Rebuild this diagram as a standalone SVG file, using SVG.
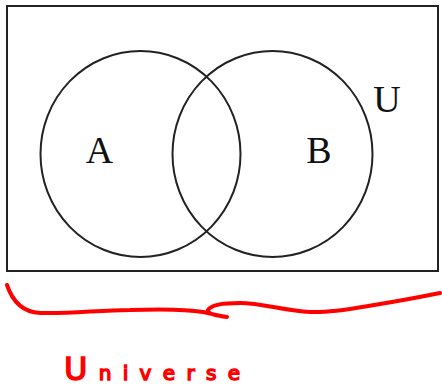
<svg xmlns="http://www.w3.org/2000/svg" width="442" height="389" viewBox="0 0 442 389">
<style>
.set{fill:none;stroke:#222;stroke-width:2}
.lbl{font-family:"Liberation Serif","Times New Roman",serif;font-size:38px;fill:#111;text-anchor:middle}
.ink{fill:none;stroke:#f00;stroke-width:4;stroke-linecap:round;stroke-linejoin:round}
.hand{font-family:"DejaVu Sans","Noto Sans",sans-serif;font-size:20px;fill:#f00;stroke:#f00;stroke-width:1.5}
.cap{font-size:32px}
</style>
<rect width="442" height="389" fill="#fff"/>
<g id="universe">
<rect class="set" x="7" y="6" width="431" height="265"/>
<text class="lbl" x="387" y="112">U</text>
</g>
<g id="setA">
<ellipse class="set" cx="140.5" cy="154" rx="100" ry="103"/>
<text class="lbl" x="99.5" y="163">A</text>
</g>
<g id="setB">
<ellipse class="set" cx="272.5" cy="154" rx="100" ry="103"/>
<text class="lbl" x="319" y="163">B</text>
</g>
<g id="annotation">
<path class="ink" d="M7,285 C12,300 22,312 40,313 C70,314 100,310 130,310 C160,309 185,309 203,312 C212,314 220,316 227,317 C218,316 207,314 208,310 C211,305 222,303 240,303 C262,303 285,311 310,312 C335,313 360,307 380,304 C405,300 425,296 440,293"/>
<text class="hand" x="64" y="380" textLength="176" lengthAdjust="spacing"><tspan class="cap">U</tspan>niverse</text>
</g>
</svg>
